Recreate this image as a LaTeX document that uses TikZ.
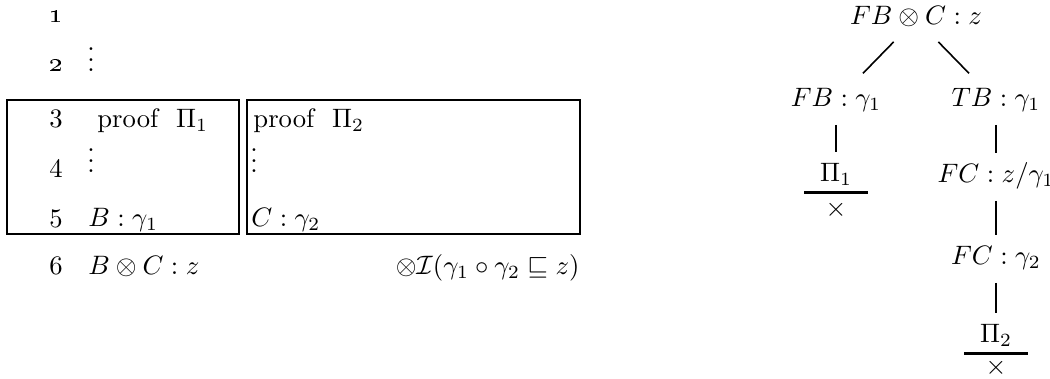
\documentclass[tikz,border=0pt]{standalone}
\begin{document}
\begin{tikzpicture}[x=0.375pt,y=-0.375pt,
    box/.style={line width=0.9pt},
    tnode/.style={text height=7pt, text depth=2.5pt, inner sep=0pt, anchor=base},
    prem/.style={tnode, minimum width=23.25pt, text depth=3.75pt},
    edge/.style={line width=0.6pt, shorten <=4pt, shorten >=4pt}]
    \useasboundingbox (0,0) rectangle (1050,379);
    % 两个子证明的方框
    \draw[box] (7,100) rectangle (239,234);
    \draw[box] (247,100) rectangle (580,234);
    % 行号
    \node (l1) at (56,23)[anchor=base] {\oldstylenums{1}};
    \node (l2) at (56,72)[anchor=base] {\oldstylenums{2}};
    \node (l3) at (56,128)[anchor=base] {3};
    \node (l4) at (56,178)[anchor=base] {4};
    \node (l5) at (56,228)[anchor=base] {5};
    \node (l6) at (56,275)[anchor=base] {6};
    % 各行公式
    \node (d2) at (91,72)[anchor=base] {$\vdots$};
    \node (p1) at (88,128)[anchor=base west] {proof\ \ $\Pi_1$};
    \node (d4) at (91,173)[anchor=base] {$\vdots$};
    \node (b5) at (79,227)[anchor=base west] {$B:\gamma_1$};
    \node (p2) at (244,128)[anchor=base west] {proof\ \ $\Pi_2$};
    \node (e4) at (254,173)[anchor=base] {$\vdots$};
    \node (c5) at (242,227)[anchor=base west] {$C:\gamma_2$};
    \node (f6) at (79,275)[anchor=base west] {$B\otimes C:z$};
    \node (r6) at (589,275)[anchor=base east] {$\otimes\mathcal{I}(\gamma_1\circ\gamma_2\sqsubseteq z)$};
    % 右边的树
    \node (root) at (916,25)[tnode] {$FB\otimes C:z$};
    \node (fb) at (836,107)[tnode] {$FB:\gamma_1$};
    \node (tb) at (996,107)[tnode] {$TB:\gamma_1$};
    \node (pi1) at (836,182)[prem] {$\Pi_1$};
    \node (x1) at (836,210) {$\times$};
    \node (fcz) at (996,183)[tnode] {$FC:z/\gamma_1$};
    \node (fcg) at (996,265)[tnode] {$FC:\gamma_2$};
    \node (pi2) at (996,343)[prem] {$\Pi_2$};
    \node (x2) at (996,368) {$\times$};
    % 连线
    \draw[line width=0.6pt, shorten <=12pt, shorten >=14.5pt] (root.center) -- (fb.center);
    \draw[line width=0.6pt, shorten <=12pt, shorten >=14.5pt] (root.center) -- (tb.center);
    \draw[edge] (fb.south) -- (pi1.north);
    \draw[edge] (tb.south) -- (fcz.north);
    \draw[edge] (fcz.south) -- (fcg.north);
    \draw[edge] (fcg.south) -- (pi2.north);
    % 横线
    \draw[line width=0.8pt] (pi1.south west) -- (pi1.south east);
    \draw[line width=0.8pt] (pi2.south west) -- (pi2.south east);
\end{tikzpicture}
\end{document}
